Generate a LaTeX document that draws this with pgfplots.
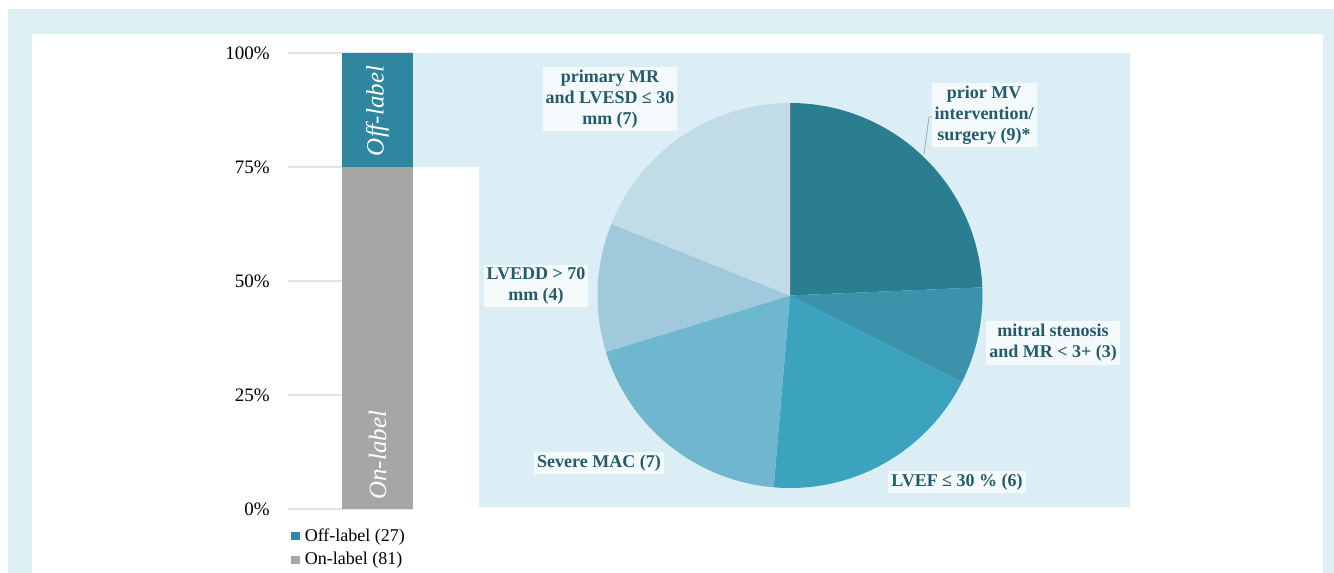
\documentclass[border=0pt]{standalone}
\usepackage{fontspec}
\setmainfont{Liberation Serif}
\usepackage{pgfplots}
\pgfplotsset{compat=1.18}
\definecolor{framec}{HTML}{DEEFF4}
\definecolor{piebg}{HTML}{DBEEF5}
\definecolor{offc}{HTML}{2E869F}
\definecolor{onc}{HTML}{A6A6A6}
\definecolor{gridc}{HTML}{E3E3E3}
\definecolor{lab}{HTML}{235B6B}
\definecolor{labbg}{HTML}{F4FAFC}
\definecolor{pieA}{HTML}{2A7E90}
\definecolor{pieB}{HTML}{3D92AB}
\definecolor{pieC}{HTML}{3BA3BE}
\definecolor{pieD}{HTML}{6FB7CE}
\definecolor{pieE}{HTML}{A0CADB}
\definecolor{pieF}{HTML}{C1DCE7}
\begin{document}
\begin{tikzpicture}
\clip (0,0) rectangle (667pt,-286.5pt);
\fill[white] (0,0) rectangle (667pt,-286.5pt);
\fill[framec] (4pt,-4.5pt) rectangle (680pt,-300pt);
\fill[white] (16pt,-17pt) rectangle (661.5pt,-300pt);
\fill[piebg] (206.5pt,-26.5pt) -- (565pt,-26.5pt) -- (565pt,-253.5pt) -- (239.5pt,-253.5pt) -- (239.5pt,-83.5pt) -- (206.5pt,-83.5pt) -- cycle;

\begin{axis}[at={(144pt,-254.5pt)}, anchor=south west, scale only axis,
  width=62.5pt, height=228pt, xmin=0, xmax=1, ymin=0, ymax=100,
  axis line style={draw=none}, major tick length=0pt,
  xtick=\empty, ytick={0,25,50,75,100},
  ymajorgrids, grid style={color=gridc, line width=0.6pt},
  /pgf/number format/assume math mode=true,
  yticklabel={\pgfmathprintnumber{\tick}\%},
  yticklabel style={font=\fontsize{9.5}{11}\selectfont, inner sep=0pt, xshift=-9pt},
  ybar stacked, bar width=35.5pt,
  reverse legend,
  legend style={at={(0,0)}, anchor=north west, yshift=-8pt, xshift=1.5pt,
    draw=none, fill=none, font=\fontsize{9}{10}\selectfont, row sep=1.2pt,
    inner sep=0pt, cells={anchor=west}, nodes={inner xsep=2.5pt, inner ysep=1.5pt}},
  legend image code/.code={\fill[#1] (0pt,-2.1pt) rectangle (4.2pt,2.1pt);},
]
\addplot[fill=onc, draw=none] coordinates {(0.716,75)};
\addplot[fill=offc, draw=none] coordinates {(0.716,25)};
\legend{On-label (81), Off-label (27)}
\coordinate (offlab) at (axis cs:0.716,87.3);
\coordinate (onlab) at (axis cs:0.716,11.8);
\end{axis}
\node[rotate=90, text=white, font=\itshape\fontsize{12.5}{14}\selectfont] at (offlab) {Off-label};
\node[rotate=90, text=white, font=\itshape\fontsize{12.5}{14}\selectfont] at (onlab) {On-label};

% pie slices drawn from the plotted values 9,3,7,7,4,7 (total 37), clockwise from 90 degrees
\begin{axis}[at={(395pt,-147.75pt)}, anchor=center, scale only axis,
  width=192.5pt, height=192.5pt, xmin=-1, xmax=1, ymin=-1, ymax=1, hide axis]
\fill[pieA] (axis cs:0,0) -- ++(90:96.25pt) arc[start angle=90, delta angle=-9*360/37, radius=96.25pt] -- cycle;
\fill[pieB] (axis cs:0,0) -- ++({90-9*360/37}:96.25pt) arc[start angle={90-9*360/37}, delta angle=-3*360/37, radius=96.25pt] -- cycle;
\fill[pieC] (axis cs:0,0) -- ++({90-12*360/37}:96.25pt) arc[start angle={90-12*360/37}, delta angle=-7*360/37, radius=96.25pt] -- cycle;
\fill[pieD] (axis cs:0,0) -- ++({90-19*360/37}:96.25pt) arc[start angle={90-19*360/37}, delta angle=-7*360/37, radius=96.25pt] -- cycle;
\fill[pieE] (axis cs:0,0) -- ++({90-26*360/37}:96.25pt) arc[start angle={90-26*360/37}, delta angle=-4*360/37, radius=96.25pt] -- cycle;
\fill[pieF] (axis cs:0,0) -- ++({90-30*360/37}:96.25pt) arc[start angle={90-30*360/37}, delta angle=-7*360/37, radius=96.25pt] -- cycle;
\end{axis}

\tikzset{pl/.style={fill=labbg, text=lab, font=\bfseries\fontsize{9}{10.5}\selectfont, align=center, inner xsep=1.5pt, inner ysep=1.5pt}}
\draw[gray!70, line width=0.4pt] (466pt,-58.5pt) -- (464.5pt,-58.5pt) -- (462pt,-77pt);
\node[pl] at (305pt,-49.5pt) {primary MR\\and LVESD ≤ 30\\mm (7)};
\node[pl] at (492pt,-57.5pt) {prior MV\\intervention/\\surgery (9)*};
\node[pl] at (526.5pt,-171.5pt) {mitral stenosis\\and MR < 3+ (3)};
\node[pl] at (268pt,-143pt) {LVEDD > 70\\mm (4)};
\node[pl] at (299.5pt,-231.5pt) {Severe MAC (7)};
\node[pl] at (478.5pt,-241pt) {LVEF ≤ 30 \% (6)};
\end{tikzpicture}
\end{document}
